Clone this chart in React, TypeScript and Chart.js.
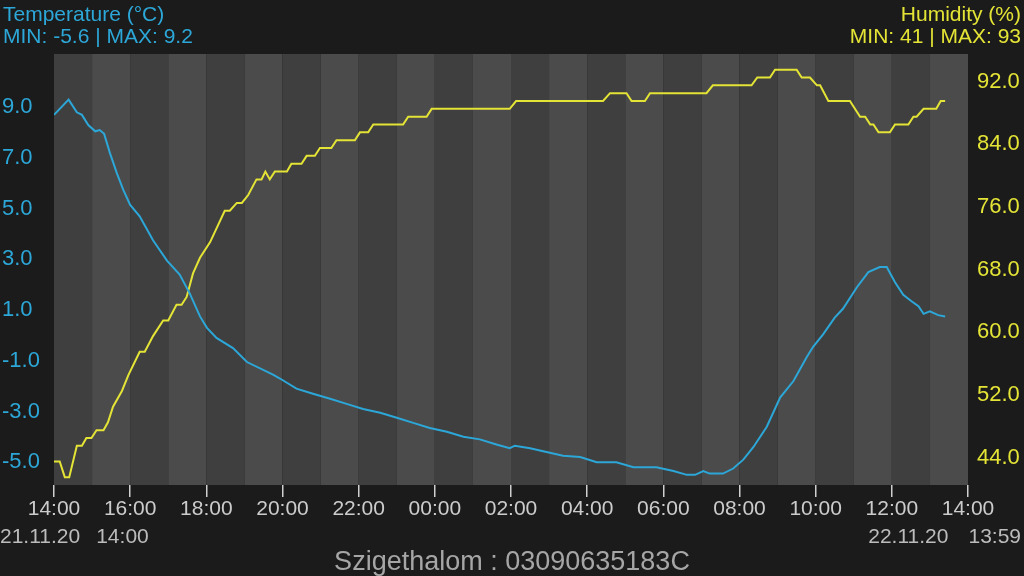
import React, { useEffect, useRef } from 'react';
import { Chart, registerables } from 'chart.js';

Chart.register(...registerables);

// ---- Data ----
const START_HOUR = 14;
const X_TICKS = [0, 120, 240, 360, 480, 600, 720, 840, 960, 1080, 1200, 1320, 1440]; // minutes since 14:00
const TEMP_TICKS = [-5, -3, -1, 1, 3, 5, 7, 9];
const HUM_TICKS = [44, 52, 60, 68, 76, 84, 92];

const TEMP_TITLE = 'Temperature (°C)';
const TEMP_MIN = '-5.6';
const TEMP_MAX = '9.2';
const HUM_TITLE = 'Humidity (%)';
const HUM_MIN = '41';
const HUM_MAX = '93';
const START_DATE = '21.11.20';
const START_TIME = '14:00';
const END_DATE = '22.11.20';
const END_TIME = '13:59';
const STATION = 'Szigethalom : 03090635183C';

const TEMP_TIMES = [
  0, 23, 36, 44, 54, 65, 72, 79, 88, 99, 109, 120, 135, 156, 178, 198, 214, 230, 241, 256,
  282, 304, 345, 356, 382, 408, 435, 461, 487, 514, 540, 566, 592, 619, 645, 671, 697, 718, 726, 750,
  776, 802, 829, 855, 886, 913, 949, 976, 997, 1010, 1023, 1033, 1054, 1070, 1086, 1102, 1123, 1144, 1165, 1186,
  1196, 1212, 1230, 1243, 1265, 1283, 1301, 1312, 1325, 1338, 1351, 1362, 1370, 1380, 1393, 1404,
];
const TEMP_VALUES = [
  8.6, 9.2, 8.7, 8.6, 8.2, 7.95, 8.0, 7.85, 7.1, 6.3, 5.65, 5.05, 4.6, 3.65, 2.85, 2.3, 1.55, 0.65, 0.2, -0.2,
  -0.6, -1.15, -1.65, -1.8, -2.2, -2.4, -2.6, -2.8, -3.0, -3.15, -3.35, -3.55, -3.75, -3.9, -4.1, -4.2, -4.4, -4.55, -4.45, -4.55,
  -4.7, -4.85, -4.9, -5.1, -5.1, -5.3, -5.3, -5.45, -5.6, -5.6, -5.45, -5.55, -5.55, -5.35, -5.0, -4.5, -3.7, -2.55, -1.9, -0.95,
  -0.55, -0.05, 0.6, 0.95, 1.8, 2.4, 2.6, 2.6, 2.0, 1.5, 1.25, 1.05, 0.75, 0.85, 0.7, 0.65,
];

const HUM_TIMES = [
  0, 9, 17, 24, 36, 44, 51, 59, 67, 78, 85, 93, 107, 117, 135, 143, 156, 172, 180, 193,
  201, 209, 219, 230, 246, 269, 277, 288, 296, 306, 319, 327, 333, 340, 348, 367, 374, 390, 398, 411,
  419, 437, 445, 474, 482, 495, 503, 550, 558, 587, 595, 718, 728, 865, 876, 902, 910, 931, 939, 1028,
  1038, 1099, 1108, 1128, 1136, 1170, 1178, 1191, 1202, 1207, 1220, 1254, 1270, 1278, 1286, 1291, 1299, 1317, 1325, 1346,
  1354, 1359, 1370, 1390, 1397, 1404,
];
const HUM_VALUES = [
  43, 43, 41, 41, 45, 45, 46, 46, 47, 47, 48, 50, 52, 54, 57, 57, 59, 61, 61, 63,
  63, 64, 67, 69, 71, 75, 75, 76, 76, 77, 79, 79, 80, 79, 80, 80, 81, 81, 82, 82,
  83, 83, 84, 84, 85, 85, 86, 86, 87, 87, 88, 88, 89, 89, 90, 90, 89, 89, 90, 90,
  91, 91, 92, 92, 93, 93, 92, 92, 91, 91, 89, 89, 87, 87, 86, 86, 85, 85, 86, 86,
  87, 87, 88, 88, 89, 89,
];

// ---- Styles ----
const BG = '#1b1b1b';
const STRIPE_DARK = '#3f3f3f';
const STRIPE_LIGHT = '#4b4b4b';
const BLUE = '#2ca7d8';
const YELLOW = '#e4e436';
const FONT = '"Liberation Sans", Arial, sans-serif';

const pad2 = (n: number) => (n < 10 ? '0' + n : '' + n);
const fmtTime = (min: number) => {
  const total = (START_HOUR * 60 + min) % 1440;
  return pad2(Math.floor(total / 60)) + ':' + pad2(total % 60);
};

const stripesPlugin = {
  id: 'stripes',
  beforeDatasetsDraw(chart: any) {
    const { ctx, chartArea, scales } = chart;
    const x = scales.x;
    ctx.save();
    for (let h = 0; h < 24; h++) {
      const x0 = x.getPixelForValue(h * 60);
      const x1 = x.getPixelForValue((h + 1) * 60);
      ctx.fillStyle = h % 2 === 0 ? STRIPE_DARK : STRIPE_LIGHT;
      ctx.fillRect(x0, chartArea.top, x1 - x0, chartArea.bottom - chartArea.top);
    }
    ctx.restore();
  },
};

const textPlugin = {
  id: 'texts',
  afterDraw(chart: any) {
    const { ctx, width } = chart;
    ctx.save();
    ctx.textBaseline = 'alphabetic';
    ctx.font = `21px ${FONT}`;
    ctx.fillStyle = BLUE;
    ctx.textAlign = 'left';
    ctx.fillText(TEMP_TITLE, 3, 21);
    ctx.fillText(`MIN: ${TEMP_MIN} | MAX: ${TEMP_MAX}`, 3, 42.5);
    ctx.fillStyle = YELLOW;
    ctx.textAlign = 'right';
    ctx.fillText(HUM_TITLE, width - 3, 21);
    ctx.fillText(`MIN: ${HUM_MIN} | MAX: ${HUM_MAX}`, width - 3, 42.5);

    // second row under axis
    ctx.fillStyle = '#bcbcbc';
    ctx.textAlign = 'left';
    const y2 = 543;
    ctx.fillText(START_DATE, 0, y2);
    ctx.fillText(START_TIME, ctx.measureText(START_DATE).width + 16, y2);
    ctx.textAlign = 'right';
    ctx.fillText(END_TIME, width - 3, y2);
    ctx.fillText(END_DATE, width - 3 - ctx.measureText(END_TIME).width - 20, y2);

    // station title
    ctx.font = `27px ${FONT}`;
    ctx.fillStyle = '#a6a6a6';
    ctx.textAlign = 'center';
    ctx.fillText(STATION, width / 2, 570);
    ctx.restore();
  },
};

export default function App() {
  const ref = useRef<HTMLCanvasElement>(null);
  useEffect(() => {
    document.body.style.margin = '0';
    document.body.style.background = BG;
    const canvas = ref.current!;
    Chart.defaults.font.family = FONT;
    const chart = new Chart(canvas, {
      type: 'line',
      data: {
        datasets: [
          {
            label: 'Temperature',
            data: TEMP_TIMES.map((t, i) => ({ x: t, y: TEMP_VALUES[i] })),
            yAxisID: 'yT',
            borderColor: BLUE,
            borderWidth: 2,
            pointRadius: 0,
            tension: 0,
            fill: false,
          },
          {
            label: 'Humidity',
            data: HUM_TIMES.map((t, i) => ({ x: t, y: HUM_VALUES[i] })),
            yAxisID: 'yH',
            borderColor: YELLOW,
            borderWidth: 2,
            pointRadius: 0,
            tension: 0,
            fill: false,
          },
        ],
      },
      options: {
        responsive: false,
        animation: false,
        layout: { padding: { left: 2, top: 54, right: 0, bottom: 0 } },
        plugins: { legend: { display: false }, tooltip: { enabled: false }, title: { display: false } },
        scales: {
          x: {
            type: 'linear',
            position: 'bottom',
            min: 0,
            max: 1440,
            afterBuildTicks: (axis: any) => {
              axis.ticks = X_TICKS.map((v) => ({ value: v }));
            },
            afterFit: (axis: any) => {
              axis.height = 91;
            },
            ticks: {
              autoSkip: false,
              maxRotation: 0,
              color: '#cccccc',
              font: { size: 21 },
              padding: 0,
              callback: (v: any) => fmtTime(Number(v)),
            },
            grid: {
              display: true,
              drawOnChartArea: false,
              drawTicks: true,
              tickLength: 12,
              color: '#cfcfcf',
              lineWidth: 1.5,
            },
            border: { display: false },
          },
          yT: {
            type: 'linear',
            position: 'left',
            min: -6,
            max: 11,
            afterBuildTicks: (axis: any) => {
              axis.ticks = TEMP_TICKS.map((v) => ({ value: v }));
            },
            afterFit: (axis: any) => {
              axis.width = 52;
            },
            ticks: {
              color: BLUE,
              font: { size: 22 },
              crossAlign: 'far',
              labelOffset: 2.5,
              padding: 0,
              callback: (v: any) => Number(v).toFixed(1),
            },
            grid: { display: false, drawTicks: false },
            border: { display: false },
          },
          yH: {
            type: 'linear',
            position: 'right',
            min: 40,
            max: 95,
            afterBuildTicks: (axis: any) => {
              axis.ticks = HUM_TICKS.map((v) => ({ value: v }));
            },
            afterFit: (axis: any) => {
              axis.width = 56;
            },
            ticks: {
              color: YELLOW,
              font: { size: 22 },
              labelOffset: 4,
              padding: 9,
              callback: (v: any) => Number(v).toFixed(1),
            },
            grid: { display: false, drawTicks: false },
            border: { display: false },
          },
        },
      } as any,
      plugins: [stripesPlugin, textPlugin],
    });
    return () => chart.destroy();
  }, []);
  return (
    <div style={{ width: 1024, height: 576, background: BG }}>
      <canvas ref={ref} width={1024} height={576} style={{ display: 'block' }} />
    </div>
  );
}
